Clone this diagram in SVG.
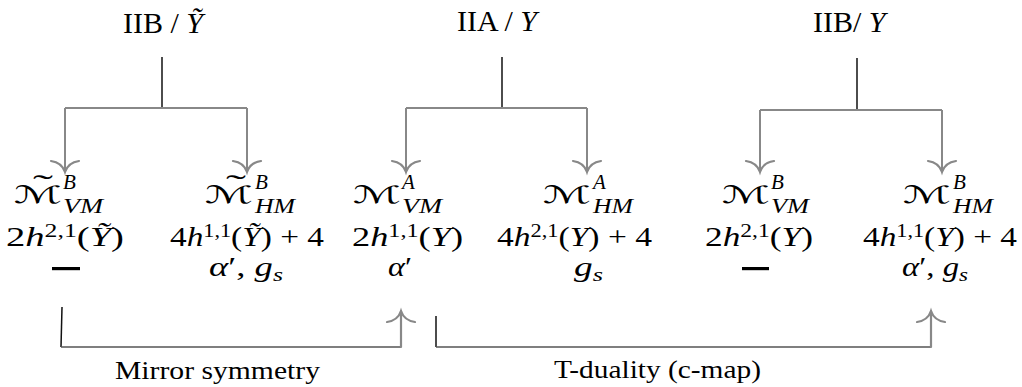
<svg xmlns="http://www.w3.org/2000/svg" width="1022" height="387" viewBox="0 0 1022 387">
<style>
text{font-family:"Liberation Serif","Times New Roman",serif;fill:#000}
.t{font-size:30px}
.m{font-size:27px}
.i{font-style:italic}
.cal{font-family:"DejaVu Sans","DejaVu Serif",sans-serif;font-size:24px}
.til{font-family:"Liberation Serif",serif;font-size:30px}
.sc{font-size:21px;font-style:italic}
.sp{font-size:18px}
.sb{font-size:21px;font-style:italic}
.ss{font-size:19px;font-style:italic}
.lab{font-size:26px}
.stem{stroke:#000;stroke-width:1.4;fill:none}
.bar{stroke:#888;stroke-width:2;fill:none}
.arr{stroke:#888;stroke-width:2.2;fill:none;stroke-linecap:round}
.low{stroke:#555;stroke-width:1.5;fill:none}
.lowv{stroke:#111;stroke-width:1.5;fill:none}
</style>
<rect width="1022" height="387" fill="#fff"/>

<g id="title-iib-tilde"><text class="t" x="123" y="33">IIB / <tspan class="i">Ỹ</tspan></text></g>
<g id="title-iia"><text class="t" x="457" y="31">IIA / <tspan class="i">Y</tspan></text></g>
<g id="title-iib"><text class="t" x="813" y="32">IIB/ <tspan class="i">Y</tspan></text></g>

<g id="connectors">
  <path class="stem" d="M162,57V108"/>
  <path class="bar" d="M65,108H247M65,108V171M247,108V171"/>
  <path class="arr" d="M51,161C58,162 63,166 65,172C67,166 72,162 79,161"/>
  <path class="arr" d="M233,161C240,162 245,166 247,172C249,166 254,162 261,161"/>

  <path class="stem" d="M502,57V108"/>
  <path class="bar" d="M406,108H587M406,108V171M587,108V171"/>
  <path class="arr" d="M392,161C399,162 404,166 406,172C408,166 413,162 420,161"/>
  <path class="arr" d="M573,161C580,162 585,166 587,172C589,166 594,162 601,161"/>

  <path class="stem" d="M857,58V110"/>
  <path class="bar" d="M760,110H942M760,110V171M942,110V171"/>
  <path class="arr" d="M746,161C753,162 758,166 760,172C762,166 767,162 774,161"/>
  <path class="arr" d="M928,161C935,162 940,166 942,172C944,166 949,162 956,161"/>

  <path class="lowv" d="M62,307L61,347"/>
  <path class="low" d="M61,347H401"/>
  <path class="arr" d="M401,347V311"/>
  <path class="arr" d="M387,322C394,321 399,317 401,311C403,317 408,321 415,322"/>

  <path class="lowv" d="M436,316V347"/>
  <path class="low" d="M436,347H931"/>
  <path class="arr" d="M931,347V311"/>
  <path class="arr" d="M917,322C924,321 929,317 931,311C933,317 938,321 945,322"/>
</g>

<g id="node-vm-b-tilde">
  <text class="cal" x="14" y="203" textLength="48" lengthAdjust="spacingAndGlyphs">ℳ</text>
  <text class="til" x="33" y="195" textLength="20" lengthAdjust="spacingAndGlyphs">˜</text>
  <text class="sc" x="63" y="189">B</text>
  <text class="sb" x="63" y="213" textLength="40" lengthAdjust="spacingAndGlyphs">VM</text>
  <text class="m" x="6" y="246" textLength="118" lengthAdjust="spacingAndGlyphs">2<tspan class="i">h</tspan><tspan class="sp" dy="-9">2,1</tspan><tspan dy="9">(</tspan><tspan class="i">Ỹ</tspan>)</text>
  <rect x="52" y="267" width="28" height="3.2" fill="#000"/>
</g>

<g id="node-hm-b-tilde">
  <text class="cal" x="205" y="203" textLength="48" lengthAdjust="spacingAndGlyphs">ℳ</text>
  <text class="til" x="226" y="195" textLength="20" lengthAdjust="spacingAndGlyphs">˜</text>
  <text class="sc" x="255" y="189">B</text>
  <text class="sb" x="255" y="213" textLength="40" lengthAdjust="spacingAndGlyphs">HM</text>
  <text class="m" x="170" y="246" textLength="154" lengthAdjust="spacingAndGlyphs">4<tspan class="i">h</tspan><tspan class="sp" dy="-9">1,1</tspan><tspan dy="9">(</tspan><tspan class="i">Ỹ</tspan>) + 4</text>
  <text class="m" x="209" y="276" textLength="74" lengthAdjust="spacingAndGlyphs"><tspan class="i">α</tspan>′, <tspan class="i">g</tspan><tspan class="ss" dy="5">s</tspan></text>
</g>

<g id="node-vm-a">
  <text class="cal" x="353" y="203" textLength="48" lengthAdjust="spacingAndGlyphs">ℳ</text>
  <text class="sc" x="402" y="189">A</text>
  <text class="sb" x="402" y="213" textLength="40" lengthAdjust="spacingAndGlyphs">VM</text>
  <text class="m" x="352" y="246" textLength="111" lengthAdjust="spacingAndGlyphs">2<tspan class="i">h</tspan><tspan class="sp" dy="-9">1,1</tspan><tspan dy="9">(</tspan><tspan class="i">Y</tspan>)</text>
  <text class="m" x="388" y="276" textLength="24" lengthAdjust="spacingAndGlyphs"><tspan class="i">α</tspan>′</text>
</g>

<g id="node-hm-a">
  <text class="cal" x="543" y="203" textLength="48" lengthAdjust="spacingAndGlyphs">ℳ</text>
  <text class="sc" x="593" y="189">A</text>
  <text class="sb" x="593" y="213" textLength="40" lengthAdjust="spacingAndGlyphs">HM</text>
  <text class="m" x="497" y="246" textLength="155" lengthAdjust="spacingAndGlyphs">4<tspan class="i">h</tspan><tspan class="sp" dy="-9">2,1</tspan><tspan dy="9">(</tspan><tspan class="i">Y</tspan>) + 4</text>
  <text class="m" x="574" y="276" textLength="29" lengthAdjust="spacingAndGlyphs"><tspan class="i">g</tspan><tspan class="ss" dy="5">s</tspan></text>
</g>

<g id="node-vm-b">
  <text class="cal" x="722" y="203" textLength="48" lengthAdjust="spacingAndGlyphs">ℳ</text>
  <text class="sc" x="771" y="189">B</text>
  <text class="sb" x="771" y="213" textLength="38" lengthAdjust="spacingAndGlyphs">VM</text>
  <text class="m" x="705" y="246" textLength="108" lengthAdjust="spacingAndGlyphs">2<tspan class="i">h</tspan><tspan class="sp" dy="-9">2,1</tspan><tspan dy="9">(</tspan><tspan class="i">Y</tspan>)</text>
  <rect x="742" y="267" width="27" height="3.2" fill="#000"/>
</g>

<g id="node-hm-b">
  <text class="cal" x="903" y="203" textLength="48" lengthAdjust="spacingAndGlyphs">ℳ</text>
  <text class="sc" x="953" y="189">B</text>
  <text class="sb" x="953" y="213" textLength="40" lengthAdjust="spacingAndGlyphs">HM</text>
  <text class="m" x="863" y="246" textLength="154" lengthAdjust="spacingAndGlyphs">4<tspan class="i">h</tspan><tspan class="sp" dy="-9">1,1</tspan><tspan dy="9">(</tspan><tspan class="i">Y</tspan>) + 4</text>
  <text class="m" x="902" y="276" textLength="66" lengthAdjust="spacingAndGlyphs"><tspan class="i">α</tspan>′, <tspan class="i">g</tspan><tspan class="ss" dy="5">s</tspan></text>
</g>

<g id="label-mirror"><text class="lab" x="115" y="379" textLength="205" lengthAdjust="spacingAndGlyphs">Mirror symmetry</text></g>
<g id="label-tduality"><text class="lab" x="554" y="378" textLength="207" lengthAdjust="spacingAndGlyphs">T-duality (c-map)</text></g>
</svg>
